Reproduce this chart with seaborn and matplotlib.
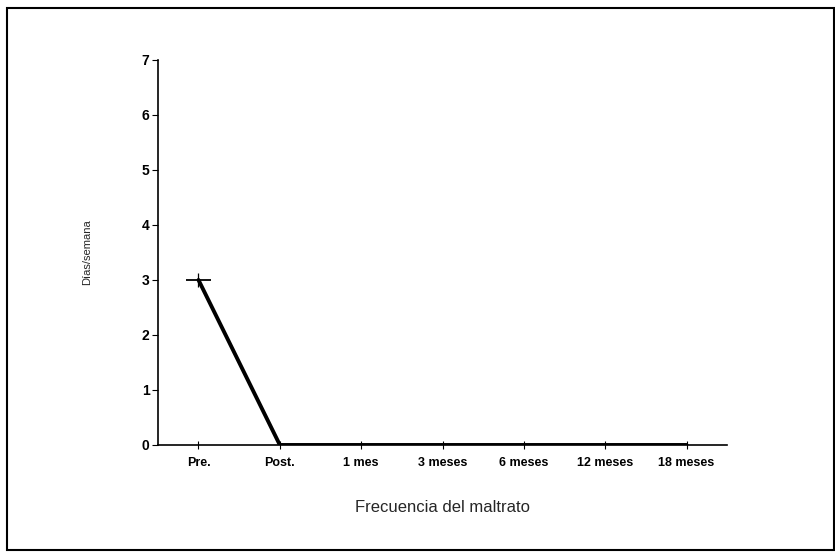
import matplotlib
matplotlib.use("Agg")
import matplotlib.pyplot as plt
import seaborn as sns
import pandas as pd
import numpy as np
from matplotlib.patches import Rectangle

categories = ["Pre.", "Post.", "1 mes", "3 meses", "6 meses", "12 meses", "18 meses"]
values = [3, 0, 0, 0, 0, 0, 0]
errors = [0.12, 0, 0, 0, 0, 0, 0]
y_ticks = [0, 1, 2, 3, 4, 5, 6, 7]

sns.set_theme(style="ticks")
plt.rcParams['font.family'] = ['Liberation Sans', 'DejaVu Sans']

fig = plt.figure(figsize=(8.35, 5.6), dpi=100)
ax = fig.add_axes([0.189, 0.2054, 0.682, 0.6876])

df = pd.DataFrame({"pos": np.arange(len(categories)), "val": values})
sns.lineplot(data=df, x="pos", y="val", ax=ax, color="black", linewidth=2.8)
# error marker at the first point: short vertical bar plus horizontal cap
ax.errorbar(df["pos"][:1], df["val"][:1], yerr=errors[:1], fmt="_",
            color="black", markersize=18, markeredgewidth=1.3,
            elinewidth=0.9, capsize=0)

ax.set_xlim(-0.5, 6.5)
ax.set_ylim(0, 7)
ax.set_xticks(df["pos"])
ax.set_xticklabels(categories, fontsize=9, fontweight="bold")
ax.set_yticks(y_ticks)
ax.set_yticklabels([str(t) for t in y_ticks], fontsize=10, fontweight="bold")
ax.tick_params(axis="x", direction="inout", length=6, width=0.8, pad=6, colors="black")
ax.tick_params(axis="y", direction="out", length=4, width=0.8, pad=2, colors="black")
for s in ["top", "right"]:
    ax.spines[s].set_visible(False)
for s in ["left", "bottom"]:
    ax.spines[s].set_linewidth(1.2)
    ax.spines[s].set_color("black")

ax.set_xlabel("Frecuencia del maltrato", fontsize=12, labelpad=22)
ax.set_ylabel("Días/semana", fontsize=8, labelpad=36)

fig.patches.append(Rectangle((0.0084, 0.018), 0.99, 0.968, transform=fig.transFigure,
                             fill=False, edgecolor="black", linewidth=1.5))

fig.savefig("out.png", dpi=100, facecolor="white")
